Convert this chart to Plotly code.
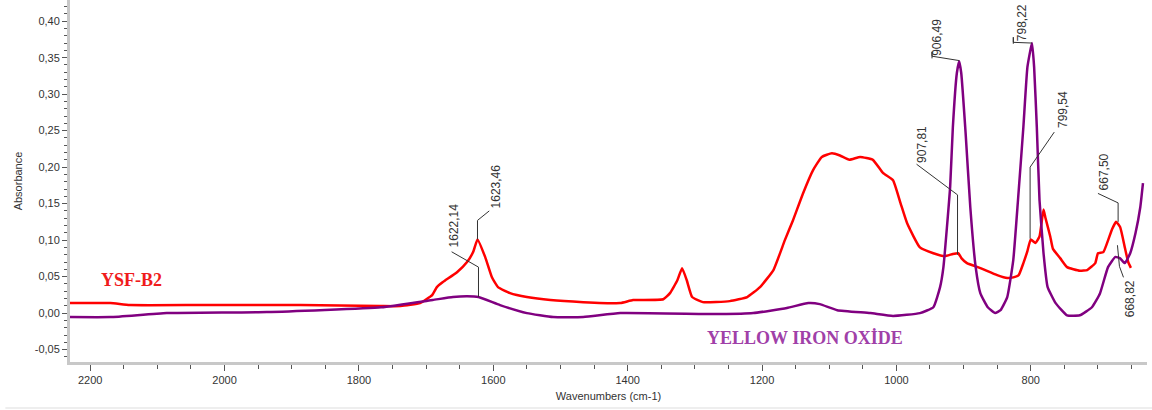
import plotly.graph_objects as go

# ---------------- data ----------------
ysf_wavenumber = [2230, 2170, 2141, 2036, 1887, 1768, 1738, 1709, 1691, 1684, 1675, 1654, 1639, 1630,
                  1623.5, 1612, 1602, 1593, 1575, 1550, 1515, 1466, 1411, 1392, 1347, 1337, 1326, 1319,
                  1312, 1304, 1288, 1248, 1222, 1203, 1183, 1166, 1154, 1139, 1124, 1111, 1096, 1084,
                  1070, 1054, 1035, 1020, 1005, 994, 984, 965, 945, 928, 916, 908, 903, 895, 875, 850,
                  835, 826, 818, 811, 805, 800, 793, 787, 781, 778, 771, 767, 756, 746, 727, 716, 704,
                  700, 692, 679, 673, 667, 660, 655, 651]
ysf_absorbance = [0.0137, 0.0137, 0.011, 0.011, 0.011, 0.0096, 0.0096, 0.0137, 0.0247, 0.0356, 0.0425,
                  0.056, 0.070, 0.0836, 0.101, 0.0767, 0.049, 0.0356, 0.0274, 0.022, 0.0178, 0.015,
                  0.0137, 0.0178, 0.019, 0.0274, 0.045, 0.0616, 0.045, 0.022, 0.015, 0.0164, 0.022,
                  0.0356, 0.059, 0.100, 0.127, 0.164, 0.196, 0.214, 0.219, 0.216, 0.210, 0.214, 0.210,
                  0.192, 0.182, 0.151, 0.123, 0.090, 0.082, 0.078, 0.081, 0.082, 0.075, 0.0685, 0.0616,
                  0.052, 0.048, 0.049, 0.052, 0.0685, 0.085, 0.101, 0.096, 0.105, 0.142, 0.130, 0.105,
                  0.088, 0.075, 0.063, 0.058, 0.059, 0.0685, 0.082, 0.0836, 0.115, 0.125, 0.118, 0.090,
                  0.070, 0.062]

yio_wavenumber = [2230, 2170, 2086, 1937, 1767, 1690, 1660, 1639, 1622, 1590, 1550, 1511, 1466, 1411,
                  1262, 1213, 1163, 1131, 1114, 1088, 1039, 1005, 965, 945, 935, 930, 920, 916, 910,
                  906.5, 903.5, 897, 890, 882, 875, 864, 853, 845, 835, 826, 819, 811, 805, 798.2,
                  795, 791, 787, 781, 775, 763, 746, 727, 709, 697, 685, 674, 667, 660, 652, 644,
                  637, 633]
yio_absorbance = [-0.0055, -0.0055, 0.0, 0.0014, 0.008, 0.018, 0.022, 0.023, 0.022, 0.011, 0.0, -0.0055,
                  -0.0055, 0.0, -0.0014, 0.0, 0.007, 0.0137, 0.0123, 0.004, 0.0, -0.004, 0.0, 0.008,
                  0.0356, 0.063, 0.173, 0.254, 0.329, 0.345, 0.329, 0.247, 0.145, 0.063, 0.027, 0.008,
                  0.0, 0.004, 0.022, 0.073, 0.155, 0.255, 0.337, 0.37, 0.337, 0.255, 0.155, 0.082,
                  0.036, 0.0137, -0.003, -0.003, 0.008, 0.027, 0.063, 0.077, 0.075, 0.0685, 0.082,
                  0.110, 0.145, 0.178]

x_tick_values = [2200, 2000, 1800, 1600, 1400, 1200, 1000, 800]
x_tick_labels = ["2200", "2000", "1800", "1600", "1400", "1200", "1000", "800"]
y_tick_values = [-0.05, 0.0, 0.05, 0.10, 0.15, 0.20, 0.25, 0.30, 0.35, 0.40]
y_tick_labels = ["-0,05", "0,00", "0,05", "0,10", "0,15", "0,20", "0,25", "0,30", "0,35", "0,40"]

# peak labels: text, text centre x, text bottom y, leader path points (data units)
peak_labels = [
    ("1623,46", 1596, 0.142, [(1623.5, 0.101), (1623.5, 0.127), (1606, 0.140)]),
    ("1622,14", 1658, 0.089, [(1622, 0.022), (1622, 0.063), (1662, 0.084)]),
    ("907,81", 962, 0.205, [(909, 0.080), (909, 0.162), (970, 0.204)]),
    ("906,49", 939, 0.351, [(906.5, 0.346), (947, 0.352), (947, 0.358), (947, 0.349)]),
    ("798,22", 814, 0.371, [(798.2, 0.370), (826, 0.371), (826, 0.378), (826, 0.369)]),
    ("799,54", 753, 0.252, [(801, 0.102), (801, 0.200), (765, 0.248)]),
    ("667,50", 691, 0.166, [(670, 0.125), (670, 0.151), (700, 0.164)]),
]
# label placed below its leader (text top given)
peak_labels_below = [
    ("668,82", 652, 0.046, [(671, 0.093), (668, 0.064), (662, 0.049)]),
]

RED = "#ff0000"
PURPLE = "#800080"

fig = go.Figure()
fig.add_trace(go.Scatter(x=ysf_wavenumber, y=ysf_absorbance, mode="lines", name="YSF-B2",
                         line=dict(color=RED, width=2.5, shape="spline", smoothing=0.4)))
fig.add_trace(go.Scatter(x=yio_wavenumber, y=yio_absorbance, mode="lines", name="YELLOW IRON OXİDE",
                         line=dict(color=PURPLE, width=2.5, shape="spline", smoothing=0.4)))

label_font = dict(family="Liberation Sans, Arial", size=12, color="#333333")
for text, tx, ty, path in peak_labels:
    fig.add_annotation(x=tx, y=ty, xref="x", yref="y", text=text, textangle=-90,
                       showarrow=False, xanchor="center", yanchor="bottom", font=label_font,
                       borderpad=0)
    d = "M " + " L ".join(f"{px},{py}" for px, py in path)
    fig.add_shape(type="path", path=d, xref="x", yref="y", line=dict(color="#333333", width=1))
for text, tx, ty, path in peak_labels_below:
    fig.add_annotation(x=tx, y=ty, xref="x", yref="y", text=text, textangle=-90,
                       showarrow=False, xanchor="center", yanchor="top", font=label_font,
                       borderpad=0)
    d = "M " + " L ".join(f"{px},{py}" for px, py in path)
    fig.add_shape(type="path", path=d, xref="x", yref="y", line=dict(color="#333333", width=1))

# series names
fig.add_annotation(x=2138, y=0.046, xref="x", yref="y", text="<b>YSF-B2</b>", showarrow=False,
                   font=dict(family="Liberation Serif, Times New Roman", size=18, color="#f01c1c"))
fig.add_annotation(x=1136, y=-0.034, xref="x", yref="y", text="<b>YELLOW IRON OXİDE</b>",
                   showarrow=False,
                   font=dict(family="Liberation Serif, Times New Roman", size=18, color="#a040a8"))

# faint bottom border line
fig.add_shape(type="line", xref="paper", yref="paper", x0=-0.06, x1=1.01, y0=-0.127, y1=-0.127,
              line=dict(color="#eeeeee", width=2))

fig.update_layout(
    width=1152, height=410,
    margin=dict(l=70, r=5, t=0, b=48, autoexpand=False),
    paper_bgcolor="white", plot_bgcolor="white",
    showlegend=False,
    font=dict(family="Liberation Sans, Arial", size=11, color="#333333"),
    xaxis=dict(range=[2230, 627], tickmode="array", tickvals=x_tick_values, ticktext=x_tick_labels,
               automargin=False,
               showgrid=False, zeroline=False, showline=True, linecolor="#c8c8c8", linewidth=3,
               ticks="outside", ticklen=6, tickcolor="#555555", tickwidth=1,
               minor=dict(tickmode="linear", tick0=0, dtick=50, ticks="outside", ticklen=4,
                          tickcolor="#555555", tickwidth=1, showgrid=False),
               tickfont=dict(size=11, color="#333333"),
               title=dict(text="Wavenumbers (cm-1)", font=dict(size=11, color="#333333"), standoff=8)),
    yaxis=dict(range=[-0.067, 0.429], tickmode="array", tickvals=y_tick_values, ticktext=y_tick_labels,
               automargin=False,
               showgrid=False, zeroline=False, showline=True, linecolor="#c8c8c8", linewidth=3,
               ticks="outside", ticklen=5, tickcolor="#555555", tickwidth=1,
               minor=dict(tickmode="linear", tick0=0, dtick=0.01, ticks="outside", ticklen=3,
                          tickcolor="#555555", tickwidth=1, showgrid=False),
               tickfont=dict(size=11, color="#333333"),
               title=dict(text="Absorbance", font=dict(size=11, color="#333333"), standoff=10)),
)

fig.write_html("out.html", config={"displayModeBar": False},
               post_script="document.body.style.margin='0';")
